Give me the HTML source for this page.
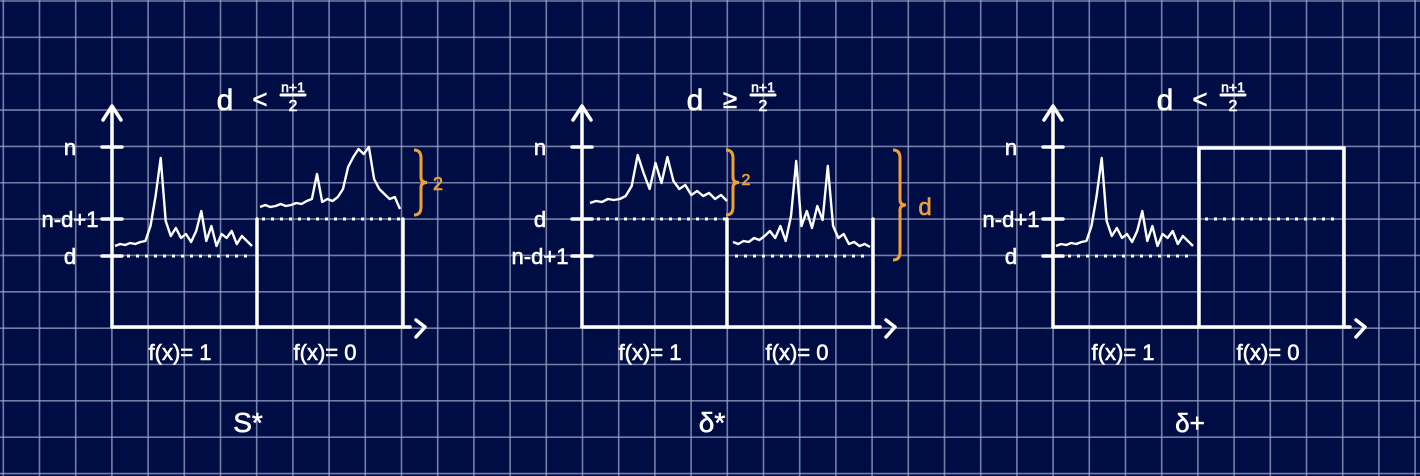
<!DOCTYPE html>
<html><head><meta charset="utf-8">
<style>
html,body{margin:0;padding:0;background:#000d45;}
svg{display:block}
text{font-family:"Liberation Sans",sans-serif;fill:#fff;stroke:#fff;stroke-width:0.6}
</style></head>
<body>
<svg id="cv" width="1420" height="476" viewBox="0 0 1420 476" xmlns="http://www.w3.org/2000/svg">
<rect width="1420" height="476" fill="#000d45"/>
<g id="grid"></g>
<g id="panels"></g>
</svg>
<script>
// grid data
const gridXStart = 3.3, gridXStep = 36.2, gridYStart = 1, gridYStep = 36.35;
// trace data: heights (px) above each trace baseline
const p1LeftHeights = [10,12,11,13,12,14,15,30,60,98,35,20,28,18,22,14,25,45,15,30,10,22,18,25,12,20,15,10];
const p1RightHeights = [12,14,12,13,15,13,14,16,15,18,20,45,17,20,18,22,30,52,62,70,65,72,40,30,25,20,22,10];
const p2LeftHeights = [8,10,9,12,11,12,15,25,56,38,22,48,28,54,30,22,26,16,20,15,18,12,16,10];
const p2RightHeights = [14,12,15,14,18,16,20,25,18,30,15,40,95,30,45,28,50,36,90,30,18,22,12,14,10,12,9];
const p3LeftHeights = [10,12,11,13,12,14,15,30,60,98,35,20,28,18,22,14,25,45,15,30,10,22,18,25,12,20,15,10];

const NS = "http://www.w3.org/2000/svg";
const grid = document.getElementById('grid');
const panels = document.getElementById('panels');
function mk(tag, attrs, parent){
  const e = document.createElementNS(NS, tag);
  for (const k in attrs) e.setAttribute(k, attrs[k]);
  (parent||panels).appendChild(e);
  return e;
}
for (let x = gridXStart; x < 1420; x += gridXStep) {
  const l = mk('line', {x1:x, y1:0, x2:x, y2:476, stroke:'#9aa3c8', 'stroke-width':1.6, 'stroke-opacity':0.75}, grid);
  
  
}
for (let y = gridYStart; y < 476; y += gridYStep) {
  const l = mk('line', {x1:0, y1:y, x2:1420, y2:y, stroke:'#9aa3c8', 'stroke-width':1.6, 'stroke-opacity':0.75}, grid);
  
  
}
const W = '#ffffff', O = '#f0a030';
function line(x1,y1,x2,y2,name,w,col,dash){
  const l = mk('line',{x1,y1,x2,y2,stroke:col||W,'stroke-width':w||3.5,'stroke-linecap':'round'});
  if (dash) { l.setAttribute('stroke-dasharray', dash); l.setAttribute('stroke-linecap','butt'); }
  
  
  return l;
}
function txt(x,y,s,size,name,anchor,col){
  const t = mk('text',{x,y,'font-size':size,'text-anchor':anchor||'middle'});
  if (col) t.setAttribute('style','fill:'+col+';stroke:'+col);
  t.textContent = s;
  
  
  return t;
}
function trace(heights, x0, x1, base, name){
  const step = (x1 - x0) / (heights.length - 1);
  const pts = heights.map((h,i) => (x0 + i*step).toFixed(1) + ',' + (base - h).toFixed(1)).join(' ');
  const p = mk('polyline',{points:pts, fill:'none', stroke:W, 'stroke-width':2.4, 'stroke-linejoin':'round'});
  
  
}
function brace(x, y1, y2, name){
  const m = (y1+y2)/2;
  const p = mk('path',{d:`M${x-4},${y1} Q${x+3},${y1} ${x+3},${y1+8} L${x+3},${m-5} Q${x+3},${m} ${x+9},${m} Q${x+3},${m} ${x+3},${m+5} L${x+3},${y2-8} Q${x+3},${y2} ${x-4},${y2}`, fill:'none', stroke:O, 'stroke-width':3});
  
  
}
function title(cx, op, name){
  txt(cx-35, 110, 'd', 30, name+'-d');
  txt(cx, 108, op, 26, name+'-op');
  txt(cx+33, 92, 'n+1', 14, name+'-num');
  line(cx+21, 95, cx+45, 95, name+'-frac-bar', 3);
  txt(cx+33, 111, '2', 16, name+'-den');
}
function axes(ox, xEnd, pfx, ticks){
  line(ox, 327, ox, 108, pfx+'-y-axis');
  mk('path',{d:`M${ox-9},${120} L${ox},${106} L${ox+9},${120}`,fill:'none',stroke:W,'stroke-width':3.5,'stroke-linecap':'round','stroke-linejoin':'round'});
  line(ox, 327, xEnd, 327, pfx+'-x-axis');
  mk('path',{d:`M${xEnd+6},${320} L${xEnd+15},${327} L${xEnd+6},${337}`,fill:'none',stroke:W,'stroke-width':3.5,'stroke-linecap':'round','stroke-linejoin':'round'});
  ticks.forEach(t => {
    line(ox-10, t[1], ox+10, t[1], pfx+'-tick');
    txt(ox-42, t[1]+8, t[0], 22, pfx+'-tick-label');
  });
}
const DOT = '3 6';
// Panel 1
title(260, '<', 'p1-title');
axes(112, 410, 'p1', [['n',147],['n-d+1',219],['d',256]]);
line(257, 219, 257, 327, 'p1-divider');
line(262, 219, 403, 219, 'p1-right-top', 3, W, DOT);
line(403, 219, 403, 327, 'p1-right-edge');
line(118, 256, 252, 256, 'p1-left-dotted', 3, W, DOT);
trace(p1LeftHeights, 115, 252, 256, 'p1-left-trace');
trace(p1RightHeights, 260, 400, 219, 'p1-right-trace');
brace(418, 150, 215, 'p1-brace');
txt(438, 190, '2', 18, 'p1-brace-label', 'middle', O);
txt(180, 360, 'f(x)= 1', 22, 'p1-label-f1');
txt(325, 360, 'f(x)= 0', 22, 'p1-label-f0');
txt(248, 432, 'S*', 28, 'p1-set-label');
// Panel 2
title(730, '≥', 'p2-title');
axes(582, 880, 'p2', [['n',147],['d',219],['n-d+1',256]]);
line(727, 219, 727, 327, 'p2-divider');
line(588, 219, 727, 219, 'p2-left-dotted', 3, W, DOT);
line(735, 256, 870, 256, 'p2-right-dotted', 3, W, DOT);
line(873, 219, 873, 327, 'p2-right-edge');
trace(p2LeftHeights, 590, 727, 211, 'p2-left-trace');
trace(p2RightHeights, 733, 870, 256, 'p2-right-trace');
brace(730, 150, 215, 'p2-brace-small');
txt(746, 185, '2', 16, 'p2-brace-small-label', 'middle', O);
brace(897, 150, 260, 'p2-brace-large');
txt(925, 215, 'd', 24, 'p2-brace-large-label', 'middle', O);
txt(650, 360, 'f(x)= 1', 22, 'p2-label-f1');
txt(797, 360, 'f(x)= 0', 22, 'p2-label-f0');
txt(712, 432, 'δ*', 28, 'p2-set-label');
// Panel 3
title(1200, '<', 'p3-title');
axes(1053, 1350, 'p3', [['n',147],['n-d+1',219],['d',256]]);
line(1199, 148, 1199, 327, 'p3-box-left');
line(1199, 148, 1344, 148, 'p3-box-top');
line(1344, 148, 1344, 327, 'p3-box-right');
line(1205, 219, 1338, 219, 'p3-right-dotted', 3, W, DOT);
line(1059, 256, 1193, 256, 'p3-left-dotted', 3, W, DOT);
trace(p3LeftHeights, 1056, 1193, 256, 'p3-left-trace');
txt(1123, 360, 'f(x)= 1', 22, 'p3-label-f1');
txt(1268, 360, 'f(x)= 0', 22, 'p3-label-f0');
txt(1190, 432, 'δ+', 26, 'p3-set-label');
</script>
</body></html>
